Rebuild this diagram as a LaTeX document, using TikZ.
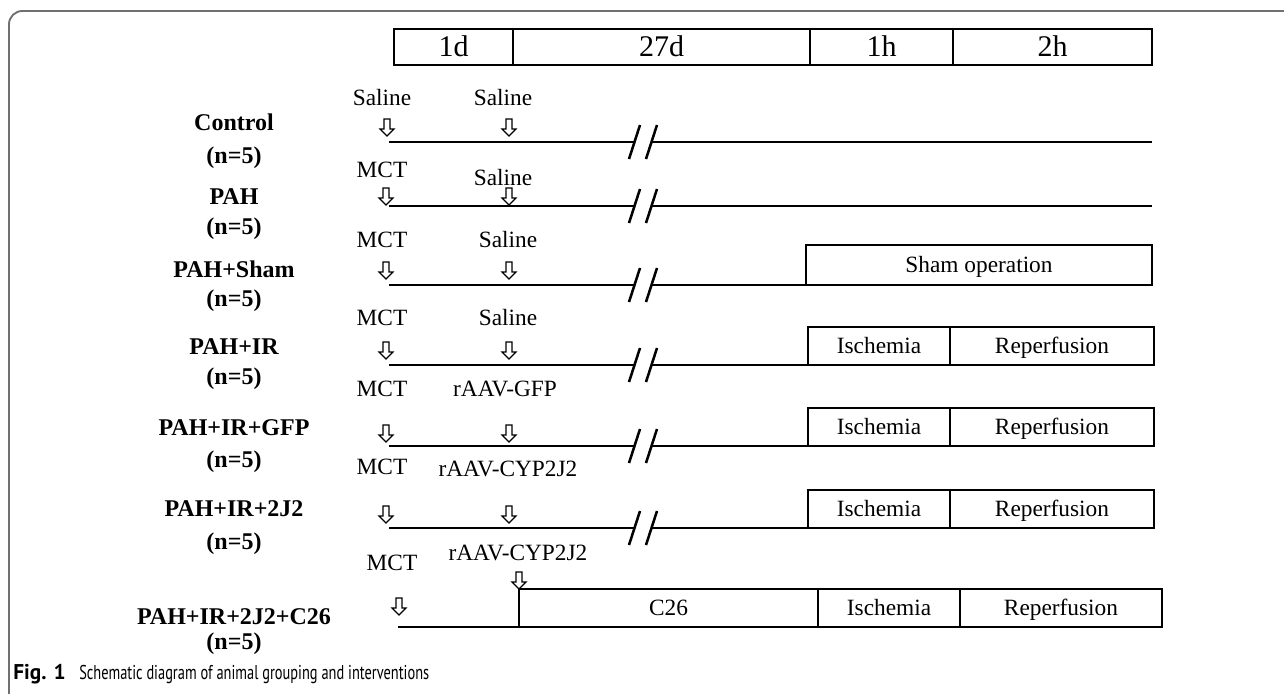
\documentclass[tikz,border=0pt]{standalone}
\usepackage{fontspec}
\setmainfont{Liberation Serif}
\newfontfamily\capfont[FakeStretch=0.72]{PT Sans}
\newfontfamily\capbold{PT Sans}
\definecolor{framegray}{HTML}{707070}
\begin{document}
\begin{tikzpicture}[x=0.75pt,y=-0.75pt,
  tl/.style={line width=1.9pt},
  bx/.style={draw, line width=1.0pt},
  lbl/.style={font=\fontsize{17.5}{20}\selectfont, inner sep=0pt, anchor=base, yshift=-5.4pt},
  hd/.style={font=\fontsize{22.5}{26}\selectfont, inner sep=0pt, anchor=base, yshift=-7pt},
  grp/.style={font=\bfseries\fontsize{18}{20}\selectfont, inner sep=0pt, anchor=base, yshift=-5.6pt},
  brk/.style={line width=1.9pt},
  darr/.pic={\draw[line width=0.9pt, fill=white, line join=miter]
     (-3,0) -- (3,0) -- (3,10) -- (7,10) -- (0,17) -- (-7,10) -- (-3,10) -- cycle;}
]
\useasboundingbox (0,0) rectangle (1284,693);
% frame
\begin{scope}
\clip (0,0) rectangle (1284,693);
\draw[framegray, line width=1.4pt, rounded corners=10] (9,11) rectangle (1320,730);
\end{scope}
% header
\draw[bx] (394,29) rectangle (513,65);
\draw[bx] (513,29) rectangle (810,65);
\draw[bx] (810,29) rectangle (953,65);
\draw[bx] (953,29) rectangle (1152,65);
\node[hd] (h1) at (453.5,47) {1d};
\node[hd] (h2) at (661.5,47) {27d};
\node[hd] (h3) at (881.5,47) {1h};
\node[hd] (h4) at (1052.5,47) {2h};
% group labels
\node[grp] (g1a) at (234,123) {Control};
\node[grp] (g1b) at (234,156) {(n=5)};
\node[grp] (g2a) at (234,197) {PAH};
\node[grp] (g2b) at (234,227) {(n=5)};
\node[grp] (g3a) at (234,270) {PAH+Sham};
\node[grp] (g3b) at (234,299) {(n=5)};
\node[grp] (g4a) at (234,347) {PAH+IR};
\node[grp] (g4b) at (234,377) {(n=5)};
\node[grp] (g5a) at (234,428) {PAH+IR+GFP};
\node[grp] (g5b) at (234,460) {(n=5)};
\node[grp] (g6a) at (234,509) {PAH+IR+2J2};
\node[grp] (g6b) at (234,542) {(n=5)};
\node[grp] (g7a) at (234,617) {PAH+IR+2J2+C26};
\node[grp] (g7b) at (234,642) {(n=5)};
% row 1
\node[lbl] (r1a) at (382,98) {Saline};
\node[lbl] (r1b) at (503,98) {Saline};
\pic at (387,119) {darr}; \pic at (509,119) {darr};
\draw[tl] (389,142) -- (635,142); \draw[tl] (652,142) -- (1152,142);
\draw[brk] (629,159) -- (640,125); \draw[brk] (646,159) -- (657,125);
% row 2
\node[lbl] (r2a) at (382,170) {MCT};
\node[lbl] (r2b) at (503,178) {Saline};
\pic at (386,188) {darr}; \pic at (509,188) {darr};
\draw[tl] (389,206) -- (635,206); \draw[tl] (652,206) -- (1152,206);
\draw[brk] (629,223) -- (640,189); \draw[brk] (646,223) -- (657,189);
% row 3
\node[lbl] (r3a) at (382,240) {MCT};
\node[lbl] (r3b) at (508,240) {Saline};
\pic at (386,262) {darr}; \pic at (509,262) {darr};
\draw[tl] (389,285) -- (635,285); \draw[tl] (652,285) -- (806,285);
\draw[brk] (629,302) -- (640,268); \draw[brk] (646,302) -- (657,268);
\draw[bx] (806,245) rectangle (1152,285);
\node[lbl] (s3) at (979,265) {Sham operation};
% row 4
\node[lbl] (r4a) at (382,318) {MCT};
\node[lbl] (r4b) at (508,318) {Saline};
\pic at (386,342) {darr}; \pic at (509,342) {darr};
\draw[tl] (389,365) -- (635,365); \draw[tl] (652,365) -- (808,365);
\draw[brk] (629,382) -- (640,348); \draw[brk] (646,382) -- (657,348);
\draw[bx] (808,327) rectangle (950,365);
\draw[bx] (950,327) rectangle (1154,365);
\node[lbl] (i4) at (879,346) {Ischemia};
\node[lbl] (p4) at (1052,346) {Reperfusion};
% row 5
\node[lbl] (r5a) at (382,389) {MCT};
\node[lbl] (r5b) at (505,389) {rAAV-GFP};
\pic at (386,425) {darr}; \pic at (509,425) {darr};
\draw[tl] (389,446) -- (635,446); \draw[tl] (652,446) -- (808,446);
\draw[brk] (629,463) -- (640,429); \draw[brk] (646,463) -- (657,429);
\draw[bx] (808,408) rectangle (950,446);
\draw[bx] (950,408) rectangle (1154,446);
\node[lbl] (i5) at (879,427) {Ischemia};
\node[lbl] (p5) at (1052,427) {Reperfusion};
% row 6
\node[lbl] (r6a) at (382,467) {MCT};
\node[lbl] (r6b) at (508,469) {rAAV-CYP2J2};
\pic at (386,506) {darr}; \pic at (509,506) {darr};
\draw[tl] (389,528) -- (635,528); \draw[tl] (652,528) -- (808,528);
\draw[brk] (629,545) -- (640,511); \draw[brk] (646,545) -- (657,511);
\draw[bx] (808,490) rectangle (950,528);
\draw[bx] (950,490) rectangle (1154,528);
\node[lbl] (i6) at (879,509) {Ischemia};
\node[lbl] (p6) at (1052,509) {Reperfusion};
% row 7
\node[lbl] (r7a) at (392,563) {MCT};
\node[lbl] (r7b) at (518,553) {rAAV-CYP2J2};
\pic at (399,598) {darr}; \pic at (519,572) {darr};
\draw[tl] (398,627) -- (1162,627);
\draw[bx] (519,589) rectangle (818,627);
\draw[bx] (818,589) rectangle (960,627);
\draw[bx] (960,589) rectangle (1162,627);
\node[lbl] (c7) at (668.5,608) {C26};
\node[lbl] (i7) at (889,608) {Ischemia};
\node[lbl] (p7) at (1061,608) {Reperfusion};
% caption
\node[anchor=base west, inner sep=0pt, font=\capbold\bfseries\fontsize{16}{18}\selectfont] (capa) at (13,679) {Fig. 1};
\node[anchor=base west, inner sep=0pt, font=\capfont\fontsize{15}{18}\selectfont] (capb) at (79,679)
  {Schematic diagram of animal grouping and interventions};
\end{tikzpicture}
\end{document}
